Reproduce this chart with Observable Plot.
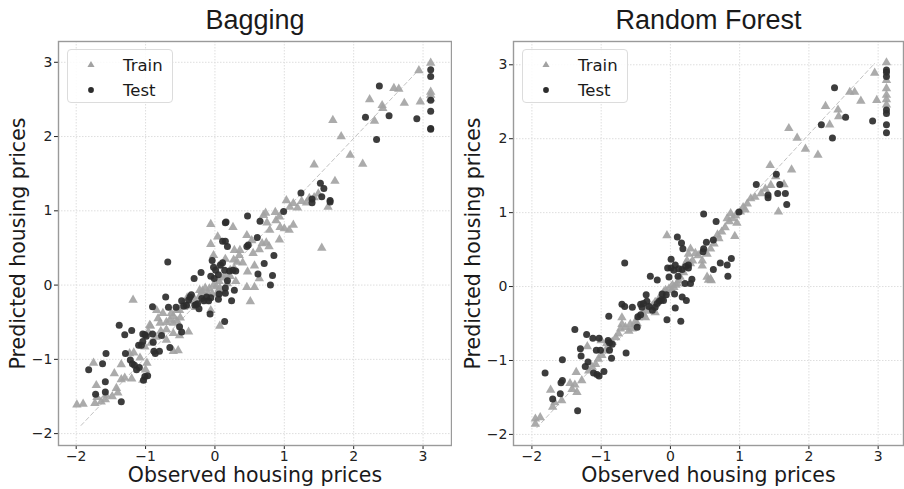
<!DOCTYPE html>
<html>
<head>
<meta charset="utf-8">
<script src="https://cdn.jsdelivr.net/npm/d3@7"></script>
<script src="https://cdn.jsdelivr.net/npm/@observablehq/plot@0.6"></script>
<style>
  body { margin: 0; background: #fff; }
  #chart { position: relative; width: 904px; height: 489px; overflow: hidden; font-family: "DejaVu Sans", sans-serif; }
  .panel { position: absolute; top: 0; }
  .legend { position: absolute; background: rgba(255,255,255,0.85); border: 1px solid #dcdcdc; border-radius: 4px; box-sizing: border-box; }
</style>
</head>
<body>
<div id="chart"></div>
<script>
// Observed vs predicted (standardised) housing prices, [observed, predicted]
const bagTrain = [
  [3.11,2.99],[3.11,2.60],[3.11,2.56],[3.11,2.51],[2.94,2.89],[2.96,2.47],[2.73,2.45],[2.58,2.65],[2.65,2.64],
  [2.42,2.38],[2.41,2.42],[2.30,2.21],[2.23,2.50],[1.70,2.22],[1.82,2.00],[1.95,1.75],[2.13,1.63],[1.43,1.62],
  [1.73,1.40],[1.54,0.50],[1.63,1.05],[1.49,1.23],[1.43,1.18],[1.36,1.17],[1.32,1.11],[1.25,1.13],[1.19,1.04],
  [1.13,1.10],[1.08,1.05],[1.03,1.14],[1.13,0.81],[1.07,0.74],[1.00,0.76],[0.94,0.78],[0.88,0.87],[0.93,0.61],
  [0.79,0.74],[0.75,0.84],[0.70,0.94],[0.73,0.97],[0.87,0.98],[0.93,0.92],[0.68,0.56],[0.64,0.48],[0.74,0.57],
  [0.78,0.52],[0.64,0.09],[0.51,-0.22],[0.57,-0.03],[0.46,-0.03],[0.47,0.18],[0.57,0.26],[0.55,0.43],[0.46,0.67],
  [0.53,0.60],[0.36,0.47],[0.28,0.47],[0.26,0.78],[-0.06,0.82],[-0.06,0.55],[0.04,0.65],[0.27,0.34],[0.32,0.31],
  [0.22,0.20],[0.17,0.13],[0.07,-0.04],[0.03,-0.11],[-0.02,0.00],[-0.10,-0.11],[-0.14,-0.04],[-0.22,-0.07],
  [-0.17,-0.13],[0.07,-0.55],[-0.06,-0.34],[-0.40,-0.17],[-0.46,-0.25],[-0.51,-0.34],[-0.55,-0.34],[-0.63,-0.38],
  [-0.65,-0.47],[-0.75,-0.38],[-0.84,-0.34],[-0.82,-0.45],[-0.79,-0.51],[-0.93,-0.55],[-0.60,-0.51],[-0.70,-0.60],
  [-0.60,-0.65],[-0.51,-0.68],[-0.70,-0.74],[-0.60,-0.89],[-0.53,-0.88],[-0.38,-0.63],[-0.94,-0.54],[-0.96,-0.63],
  [-1.01,-0.83],[-1.18,-0.20],[-1.23,-0.92],[-1.35,-1.07],[-1.45,-1.19],[-1.35,-1.27],[-1.30,-1.25],[-1.20,-1.26],
  [-1.42,-1.39],[-1.40,-1.45],[-1.48,-1.50],[-1.57,-1.48],[-1.58,-1.54],[-1.64,-1.57],[-1.71,-1.35],[-1.73,-1.59],
  [-1.70,-1.51],[-1.75,-1.05],[-1.99,-1.61],[-1.90,-1.60],[-1.17,-0.91],[-1.08,-0.98],[-0.98,-1.05],[-1.00,-1.14],
  [-1.04,-1.28],[-0.45,-0.30],[-0.40,-0.28],[-0.35,-0.22],[-0.30,-0.18],[-0.28,-0.30],[-0.22,-0.15],[-0.18,-0.08],
  [-0.12,-0.22],[-0.08,-0.05],[-0.04,-0.12],[0.02,-0.02],[0.06,0.05],[0.10,-0.08],[0.12,0.10],[0.18,0.02],
  [0.22,0.12],[0.28,0.22],[0.30,0.05],[-0.60,-0.42],[-0.55,-0.48],[-0.50,-0.44],[-0.70,-0.50],[-0.78,-0.62],
  [-0.85,-0.70],[-0.92,-0.78],[0.35,0.40],[0.40,0.30],[0.15,0.35],[0.05,0.25],[-0.02,0.40]
];
const bagTest = [
  [3.11,2.90],[3.11,2.81],[3.11,2.49],[3.11,2.34],[3.11,2.11],[3.11,2.10],[2.37,2.68],[2.17,2.26],[2.51,2.28],
  [2.91,2.24],[2.33,1.96],[1.24,1.24],[1.52,1.37],[1.57,1.30],[1.40,1.11],[1.40,1.16],[1.54,1.19],[1.66,1.14],
  [1.66,1.12],[0.99,0.99],[0.47,0.93],[0.65,0.86],[0.16,0.85],[0.15,0.84],[0.61,0.64],[0.46,0.52],[0.48,0.54],
  [0.11,0.59],[0.15,0.59],[0.18,0.52],[0.85,0.40],[0.71,0.29],[0.62,0.15],[0.83,0.13],[0.80,0.00],[-0.68,0.31],
  [-0.30,0.09],[-0.20,0.17],[-0.04,0.33],[-0.02,0.24],[0.01,0.20],[0.05,0.14],[-0.06,0.12],[-0.01,0.09],
  [0.08,0.27],[0.11,0.30],[0.14,0.20],[0.21,0.19],[0.26,0.20],[0.30,0.19],[0.18,0.06],[0.15,-0.04],[0.28,-0.07],
  [0.15,-0.11],[0.24,-0.21],[-0.71,-0.16],[-0.90,-0.29],[-0.67,-0.30],[-0.56,-0.30],[-0.48,-0.21],[-0.45,-0.28],
  [-0.41,-0.27],[-0.38,-0.20],[-0.36,-0.16],[-0.34,-0.13],[-0.29,-0.27],[-0.27,-0.26],[-0.25,-0.25],[-0.23,-0.32],
  [-0.19,-0.18],[-0.16,-0.21],[-0.12,-0.16],[-0.09,-0.21],[-0.06,-0.17],[-0.07,-0.39],[0.05,-0.19],[0.06,-0.12],
  [0.14,-0.49],[-0.51,-0.56],[-0.48,-0.63],[-1.38,-0.54],[-1.30,-0.67],[-1.20,-0.61],[-1.57,-0.92],[-1.29,-0.92],
  [-1.04,-0.66],[-1.01,-0.67],[-0.99,-0.69],[-1.04,-0.76],[-1.06,-0.81],[-1.10,-0.81],[-0.90,-0.66],[-0.89,-0.77],
  [-0.88,-0.89],[-0.86,-0.92],[-0.80,-0.89],[-0.77,-0.68],[-0.65,-0.84],[-1.22,-1.01],[-1.19,-1.06],[-1.16,-1.08],
  [-1.13,-1.14],[-1.09,-1.11],[-1.01,-1.23],[-1.03,-1.28],[-0.97,-1.22],[-1.82,-1.14],[-1.62,-1.06],[-1.72,-1.47],
  [-1.58,-1.30],[-1.58,-1.44],[-1.35,-1.57]
];
const rfTrain = [
  [3.12,3.03],[3.12,2.79],[3.12,2.68],[3.12,2.59],[3.12,2.53],[3.12,2.46],[2.95,2.89],[2.98,2.52],[2.75,2.51],
  [2.59,2.63],[2.66,2.63],[2.42,2.39],[2.43,2.30],[2.30,2.19],[2.24,2.44],[1.71,2.14],[1.83,2.01],[1.95,1.86],
  [2.13,1.78],[1.44,1.64],[1.75,1.58],[1.56,1.01],[1.64,1.38],[1.52,1.49],[1.45,1.37],[1.37,1.32],[1.31,1.26],
  [1.22,1.21],[1.16,1.19],[1.11,1.12],[1.05,1.07],[1.08,1.04],[1.01,1.01],[0.94,0.96],[0.87,0.99],[0.82,0.92],
  [0.96,0.86],[0.93,0.68],[0.79,0.80],[0.74,0.74],[0.70,0.65],[0.63,0.58],[0.58,0.51],[0.53,0.44],[0.46,0.35],
  [0.46,0.28],[0.55,0.09],[0.59,0.08],[-0.05,0.69],[0.29,0.51],[0.26,0.44],[0.24,0.35],[0.22,0.31],[0.19,0.19],
  [0.14,0.13],[0.10,0.04],[0.05,-0.01],[0.02,-0.05],[-0.02,-0.03],[-0.07,-0.05],[-0.12,-0.12],[-0.17,-0.17],
  [-0.22,-0.21],[-0.26,-0.26],[-0.34,-0.33],[-0.39,-0.37],[-0.46,-0.42],[-0.51,-0.48],[-0.58,-0.51],[-0.65,-0.55],
  [-0.72,-0.57],[-0.70,-0.51],[-0.75,-0.64],[-0.79,-0.69],[-0.84,-0.75],[-0.89,-0.82],[-0.94,-0.87],[-0.99,-0.93],
  [-1.04,-0.98],[-1.08,-1.05],[-1.13,-1.09],[-1.18,-1.14],[-1.20,-0.81],[-1.36,-1.16],[-1.45,-1.31],[-1.38,-1.33],
  [-1.35,-1.43],[-1.28,-1.27],[-1.42,-1.39],[-1.73,-1.40],[-1.70,-1.63],[-1.67,-1.57],[-1.57,-1.54],[-1.95,-1.79],
  [-1.88,-1.77],[-1.95,-1.86],[-1.00,-0.73],[-0.92,-0.77],[-0.60,-0.60],[-0.55,-0.57],[-0.48,-0.50],[-0.70,-0.42],
  [-0.36,-0.42],[-0.22,-0.35],[0.29,0.31],[0.32,0.35],[0.53,0.13],[0.58,0.10],[0.08,0.02],[-0.10,-0.08],
  [-0.30,-0.28],[0.12,0.08],[0.03,0.02],[-0.42,-0.40],[0.36,0.45],[0.40,0.42],[0.68,0.70],[0.85,0.88],[0.90,0.92]
];
const rfTest = [
  [3.12,2.93],[3.12,2.90],[3.12,2.84],[3.12,2.39],[3.12,2.34],[3.12,2.19],[3.12,2.08],[2.37,2.69],[2.18,2.19],
  [2.53,2.29],[2.92,2.24],[2.34,2.01],[1.24,1.38],[1.53,1.52],[1.58,1.38],[1.41,1.24],[1.41,1.20],[1.55,1.26],
  [1.66,1.26],[1.68,1.11],[0.99,1.01],[0.48,0.98],[0.66,0.88],[0.10,0.67],[0.16,0.59],[0.18,0.51],[0.62,0.63],
  [0.52,0.60],[0.48,0.51],[0.47,0.47],[0.88,0.38],[0.72,0.32],[0.62,0.23],[0.82,0.29],[0.83,0.14],[-0.66,0.32],
  [-0.29,0.14],[-0.19,0.09],[0.01,0.37],[-0.04,0.25],[0.01,0.25],[0.05,0.22],[0.07,0.29],[0.12,0.24],[0.17,0.23],
  [0.22,0.27],[0.26,0.29],[0.31,0.10],[0.21,0.04],[0.11,0.14],[-0.02,0.13],[0.26,0.25],[0.29,0.04],[0.06,-0.10],
  [-0.06,-0.11],[0.07,-0.29],[0.15,-0.47],[0.23,-0.19],[0.17,-0.14],[-0.05,-0.45],[-0.35,-0.11],[-0.41,-0.28],
  [-0.43,-0.24],[-0.39,-0.23],[-0.34,-0.20],[-0.31,-0.27],[-0.26,-0.32],[-0.22,-0.28],[-0.19,-0.23],[-0.16,-0.20],
  [-0.13,-0.18],[-0.10,-0.19],[-0.12,-0.10],[-0.55,-0.28],[-0.70,-0.24],[-0.66,-0.27],[-0.47,-0.41],[-0.48,-0.55],
  [-0.43,-0.38],[-0.89,-0.40],[-1.38,-0.58],[-1.30,-0.84],[-1.29,-0.94],[-1.21,-0.65],[-1.12,-0.70],[-1.03,-0.70],
  [-1.07,-0.86],[-1.01,-0.86],[-0.90,-0.73],[-0.88,-0.76],[-0.84,-0.78],[-0.88,-0.86],[-0.85,-0.97],[-0.64,-0.90],
  [-1.19,-1.02],[-1.23,-1.08],[-1.11,-1.17],[-1.06,-1.19],[-1.03,-1.21],[-0.96,-1.15],[-1.56,-0.99],[-1.81,-1.17],
  [-1.58,-1.30],[-1.56,-1.27],[-1.59,-1.45],[-1.70,-1.52],[-1.34,-1.68]
];

// Reference line y = x (endpoints)
const bagDiag = [[-1.93,-1.89],[2.94,2.90]];
const rfDiag = [[-1.93,-1.91],[2.95,3.02]];

const ticks = [-2, -1, 0, 1, 2, 3];
const titles = ["Bagging", "Random Forest"];
const xLabel = "Observed housing prices";
const yLabel = "Predicted housing prices";
const legendLabels = ["Train", "Test"];

const TRAIN_COLOR = "#a2a2a2";
const TEST_COLOR = "#2c2c2c";
const fmt = d => (d < 0 ? "\u2212" + Math.abs(d) : String(d));

function panel({title, train, test, diag, xDomain, yDomain, width, left}) {
  const plot = Plot.plot({
    width,
    height: 489,
    marginLeft: 58,
    marginRight: 1,
    marginTop: 41,
    marginBottom: 44,
    style: {fontFamily: "DejaVu Sans, sans-serif", background: "transparent", color: "#222"},
    x: {domain: xDomain},
    y: {domain: yDomain},
    marks: [
      Plot.gridX(ticks, {stroke: "#dedede", strokeOpacity: 1, strokeDasharray: "1.5,1.5"}),
      Plot.gridY(ticks, {stroke: "#dedede", strokeOpacity: 1, strokeDasharray: "1.5,1.5"}),
      Plot.axisX(ticks, {tickSize: 4, tickPadding: 2, fontSize: 14, tickFormat: fmt, label: null, color: "#222"}),
      Plot.axisY(ticks, {tickSize: 4, tickPadding: 2, fontSize: 14, tickFormat: fmt, label: null, color: "#222"}),
      Plot.line(diag, {x: d => d[0], y: d => d[1], stroke: "#c2c2c2", strokeWidth: 1, strokeDasharray: "4,3"}),
      Plot.dot(train, {x: d => d[0], y: d => d[1], symbol: "triangle", r: 3.5, fill: TRAIN_COLOR, fillOpacity: 0.9}),
      Plot.dot(test, {x: d => d[0], y: d => d[1], r: 3.5, fill: TEST_COLOR, fillOpacity: 0.92}),
      Plot.frame({stroke: "#9a9a9a", strokeWidth: 1.4}),
      Plot.text([title], {frameAnchor: "top", dy: -21, fontSize: 27, fontFamily: "Liberation Sans, Arial, sans-serif", fill: "#1a1a1a", textAnchor: "middle", lineAnchor: "middle"}),
      Plot.text([xLabel], {frameAnchor: "bottom", dy: 30, fontSize: 20.5, fill: "#1a1a1a", textAnchor: "middle", lineAnchor: "middle"}),
      Plot.text([yLabel], {frameAnchor: "left", dx: -40, rotate: -90, fontSize: 20.5, fill: "#1a1a1a", textAnchor: "middle", lineAnchor: "middle"})
    ]
  });
  const wrap = document.createElement("div");
  wrap.className = "panel";
  wrap.style.left = left + "px";
  wrap.appendChild(plot);

  // legend box in the upper-left corner of the frame
  const lg = document.createElement("div");
  lg.className = "legend";
  lg.style.left = "67px";
  lg.style.top = "49px";
  lg.style.width = "106px";
  lg.style.height = "54px";
  const svg = d3.create("svg").attr("width", 106).attr("height", 54).style("display", "block");
  svg.append("path").attr("d", d3.symbol(d3.symbolTriangle, 22)()).attr("transform", "translate(23,15)").attr("fill", TRAIN_COLOR);
  svg.append("path").attr("d", d3.symbol(d3.symbolCircle, 26)()).attr("transform", "translate(23,40)").attr("fill", TEST_COLOR);
  legendLabels.forEach((t, i) => {
    svg.append("text").attr("x", 55).attr("y", 15 + i * 25).attr("dy", "0.35em")
      .attr("font-size", 16.5).attr("font-family", "DejaVu Sans, sans-serif").attr("fill", "#1a1a1a").text(t);
  });
  lg.appendChild(svg.node());
  wrap.appendChild(lg);
  return wrap;
}

const chart = document.getElementById("chart");
chart.appendChild(panel({title: titles[0], train: bagTrain, test: bagTest, diag: bagDiag,
  xDomain: [-2.255, 3.41], yDomain: [-2.16, 3.28], width: 452, left: 0}));
chart.appendChild(panel({title: titles[1], train: rfTrain, test: rfTest, diag: rfDiag,
  xDomain: [-2.266, 3.366], yDomain: [-2.15, 3.315], width: 449, left: 455}));
</script>
</body>
</html>
